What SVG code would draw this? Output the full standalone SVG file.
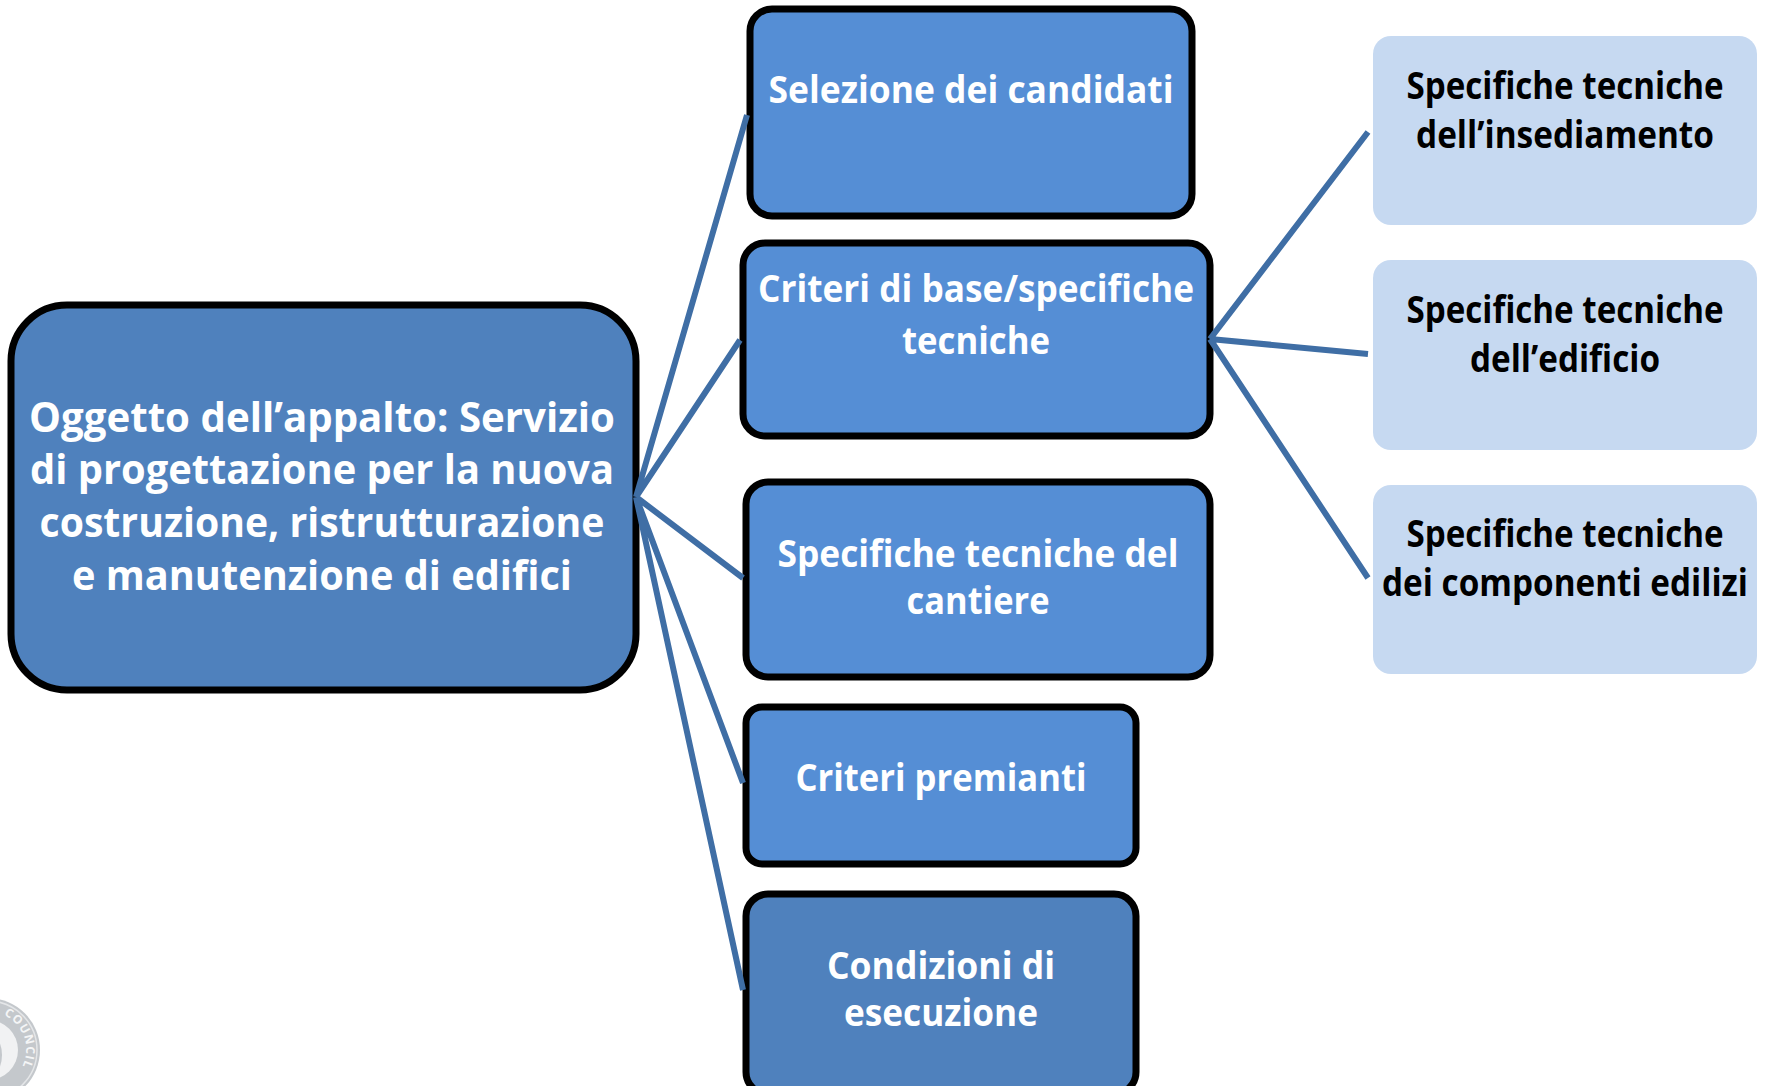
<svg xmlns="http://www.w3.org/2000/svg" width="1767" height="1086" viewBox="0 0 1767 1086">
<style>
.n{stroke:#000;stroke-width:7}
.a{fill:#558ed5}
.b{fill:#4f81bd}
.c{fill:#c6d9f1}
.l{fill:none;stroke:#3f6ea5;stroke-width:6}
text{font-family:"Open Sans","Noto Sans",sans-serif;font-weight:700;text-anchor:middle}
.w{fill:#fff}
.k{fill:#000}
.s{font-size:37px}
.g{font-size:41px}
</style>
<defs><path id="arc" d="M-2 1013A38 38 0 0 1 19 1072"/></defs>
<rect width="1767" height="1086" fill="#fff"/>
<g id="seal">
<circle cx="-12" cy="1050" r="52" fill="#c4c8cc"/>
<circle cx="-12" cy="1050" r="49" fill="none" stroke="#e4e6e8" stroke-width="1.5"/>
<circle cx="-12" cy="1050" r="30" fill="#f1f2f3"/>
<ellipse cx="-9" cy="1055" rx="11" ry="20" fill="#c4c8cc"/>
<text font-size="12" fill="#f4f5f6" style="letter-spacing:1px"><textPath href="#arc" startOffset="50%">COUNCIL</textPath></text>
</g>
<g id="root"><rect class="n b" x="11" y="305" width="625" height="385" rx="56"/>
<text class="w g"><tspan x="322" y="432" textLength="586" lengthAdjust="spacingAndGlyphs">Oggetto dell’appalto: Servizio</tspan><tspan x="322" y="484" textLength="584" lengthAdjust="spacingAndGlyphs">di progettazione per la nuova</tspan><tspan x="322" y="537" textLength="565" lengthAdjust="spacingAndGlyphs">costruzione, ristrutturazione</tspan><tspan x="322" y="590" textLength="500" lengthAdjust="spacingAndGlyphs">e manutenzione di edifici</tspan></text></g>
<g id="n1"><rect class="n a" x="750" y="9" width="442" height="207" rx="22"/><text class="w s"><tspan x="971" y="103" textLength="405" lengthAdjust="spacingAndGlyphs">Selezione dei candidati</tspan></text></g>
<g id="n2"><rect class="n a" x="743" y="243" width="467" height="193" rx="22"/><text class="w s"><tspan x="976" y="302" textLength="436" lengthAdjust="spacingAndGlyphs">Criteri di base/specifiche</tspan><tspan x="976" y="354" textLength="148" lengthAdjust="spacingAndGlyphs">tecniche</tspan></text></g>
<g id="n3"><rect class="n a" x="746" y="482" width="464" height="195" rx="22"/><text class="w s"><tspan x="978" y="567" textLength="401" lengthAdjust="spacingAndGlyphs">Specifiche tecniche del</tspan><tspan x="978" y="614" textLength="143" lengthAdjust="spacingAndGlyphs">cantiere</tspan></text></g>
<g id="n4"><rect class="n a" x="746" y="707" width="390" height="157" rx="16"/><text class="w s"><tspan x="941" y="791" textLength="291" lengthAdjust="spacingAndGlyphs">Criteri premianti</tspan></text></g>
<g id="n5"><rect class="n b" x="746" y="894" width="390" height="200" rx="22"/><text class="w s"><tspan x="941" y="979" textLength="228" lengthAdjust="spacingAndGlyphs">Condizioni di</tspan><tspan x="941" y="1026" textLength="194" lengthAdjust="spacingAndGlyphs">esecuzione</tspan></text></g>
<g id="s1"><rect class="c" x="1373" y="36" width="384" height="189" rx="18"/><text class="k s"><tspan x="1565" y="99" textLength="317" lengthAdjust="spacingAndGlyphs">Specifiche tecniche</tspan><tspan x="1565" y="148" textLength="298" lengthAdjust="spacingAndGlyphs">dell’insediamento</tspan></text></g>
<g id="s2"><rect class="c" x="1373" y="260" width="384" height="190" rx="18"/><text class="k s"><tspan x="1565" y="323" textLength="317" lengthAdjust="spacingAndGlyphs">Specifiche tecniche</tspan><tspan x="1565" y="372" textLength="190" lengthAdjust="spacingAndGlyphs">dell’edificio</tspan></text></g>
<g id="s3"><rect class="c" x="1373" y="485" width="384" height="189" rx="18"/><text class="k s"><tspan x="1565" y="547" textLength="317" lengthAdjust="spacingAndGlyphs">Specifiche tecniche</tspan><tspan x="1565" y="596" textLength="366" lengthAdjust="spacingAndGlyphs">dei componenti edilizi</tspan></text></g>
<g id="connectors">
<path class="l" d="M636 497L747 115M636 497L740 340M636 497L743 578M636 497L743 783M636 497L743 990"/>
<path class="l" d="M1210 339L1368 132M1210 339L1368 354M1210 339L1368 578"/>
</g>
</svg>
